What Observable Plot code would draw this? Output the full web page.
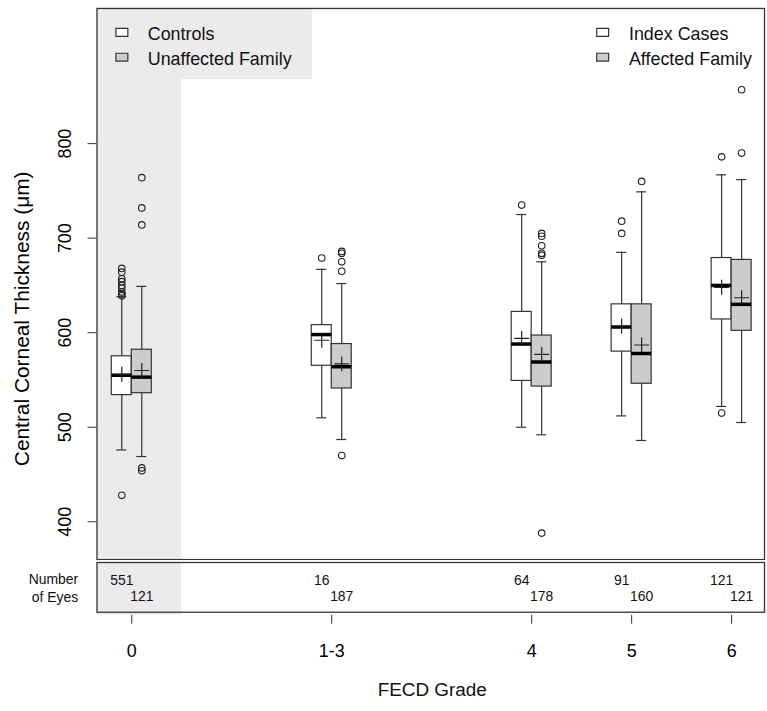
<!DOCTYPE html>
<html>
<head>
<meta charset="utf-8">
<script src="https://cdn.jsdelivr.net/npm/d3@7"></script>
<script src="https://cdn.jsdelivr.net/npm/@observablehq/plot@0.6"></script>
<style>
  html, body { margin: 0; padding: 0; background: #fff; overflow: hidden; }
  #wrap { position: relative; width: 767px; height: 711px; overflow: hidden; font-family: "Liberation Sans", Arial, sans-serif; }
  #main, #bottom { position: absolute; left: 0; }
  #main { top: 0; }
  #bottom { top: 561px; }
</style>
</head>
<body>
<div id="wrap"><div id="main"></div><div id="bottom"></div></div>
<script>
// ---------- data ----------
const groups   = ["0", "1-3", "4", "5", "6"];
const groupPos = [0, 2, 4, 5, 6];
const yTicks   = [400, 500, 600, 700, 800];

// white boxes: Controls (grade 0) / Index Cases (grades 1-6)
const q1A   = [534, 565, 549, 580, 614];
const medA  = [555, 598, 588, 606, 650];
const q3A   = [575, 608, 622, 630, 679];
const loA   = [476, 510, 500, 512, 522];
const hiA   = [638, 667, 725, 685, 767];
const meanA = [556, 592, 594, 607, 648];
const outA  = [[668, 664, 657, 654, 650, 647, 643, 641, 639, 428], [679], [735], [718, 705], [786, 515]];
const nA    = [551, 16, 64, 91, 121];

// grey boxes: Unaffected Family (grade 0) / Affected Family (grades 1-6)
const q1B   = [536, 541, 543, 546, 602];
const medB  = [553, 564, 569, 578, 630];
const q3B   = [582, 588, 597, 630, 677];
const loB   = [469, 487, 492, 486, 505];
const hiB   = [649, 652, 675, 749, 762];
const meanB = [560, 567, 577, 587, 637];
const outB  = [[764, 732, 714, 457, 454], [686, 684, 675, 665, 470], [705, 702, 692, 684, 682, 388], [760], [857, 790]];
const nB    = [121, 187, 178, 160, 121];

const legendLeft  = ["Controls", "Unaffected Family"];
const legendRight = ["Index Cases", "Affected Family"];

// ---------- build tables ----------
const seriesDefs = [
  {key: "A", off: -0.1, fill: "#ffffff", q1: q1A, med: medA, q3: q3A, lo: loA, hi: hiA, mean: meanA, out: outA, n: nA},
  {key: "B", off: 0.1, fill: "#cccccc", q1: q1B, med: medB, q3: q3B, lo: loB, hi: hiB, mean: meanB, out: outB, n: nB}
];
const boxes = [];
const outliers = [];
for (const s of seriesDefs) {
  groups.forEach((g, i) => {
    const c = groupPos[i] + s.off;
    boxes.push({key: s.key, group: g, c, fill: s.fill, q1: s.q1[i], med: s.med[i], q3: s.q3[i], lo: s.lo[i], hi: s.hi[i], mean: s.mean[i], n: s.n[i]});
    s.out[i].forEach(v => outliers.push({c, v}));
  });
}

const W = 771, xDomain = [-0.348, 6.329], yDomain = [360, 943];
const hw = 0.1, cap = 0.05;
const ink = "#333";
const font = "Liberation Sans, Arial, sans-serif";
const legendBox = {draw(ctx) { ctx.moveTo(-6, -4); ctx.lineTo(6, -4); ctx.lineTo(6, 4); ctx.lineTo(-6, 4); ctx.closePath(); }};

const main = Plot.plot({
  width: W, height: 563,
  marginTop: 8, marginBottom: 1, marginLeft: 97, marginRight: 3,
  style: {fontFamily: font, background: "transparent"},
  x: {domain: xDomain, axis: null},
  y: {domain: yDomain},
  marks: [
    Plot.rect({length: 1}, {x1: xDomain[0], x2: 0.5, fill: "#ebebeb"}),
    Plot.frame({fill: "#ebebeb", stroke: "none", insetRight: 455, insetBottom: 483}),
    // whiskers
    Plot.ruleX(boxes, {x: "c", y1: "q3", y2: "hi", stroke: ink, strokeWidth: 1.2}),
    Plot.ruleX(boxes, {x: "c", y1: "q1", y2: "lo", stroke: ink, strokeWidth: 1.2}),
    Plot.ruleY(boxes, {y: "hi", x1: d => d.c - cap, x2: d => d.c + cap, stroke: ink, strokeWidth: 1.2}),
    Plot.ruleY(boxes, {y: "lo", x1: d => d.c - cap, x2: d => d.c + cap, stroke: ink, strokeWidth: 1.2}),
    // boxes
    Plot.rect(boxes, {x1: d => d.c - hw, x2: d => d.c + hw, y1: "q1", y2: "q3", fill: "fill", stroke: ink, strokeWidth: 1.2}),
    // medians
    Plot.ruleY(boxes, {y: "med", x1: d => d.c - hw, x2: d => d.c + hw, stroke: "#000", strokeWidth: 3.5}),
    // means
    Plot.dot(boxes, {x: "c", y: "mean", symbol: "plus", r: 4.9, stroke: "#222", strokeWidth: 1.2}),
    // outliers
    Plot.dot(outliers, {x: "c", y: "v", r: 3.3, stroke: "#222", fill: "none", strokeWidth: 1.1}),
    // y axis
    Plot.axisY({ticks: yTicks, tickRotate: -90, tickSize: 9, tickPadding: 17, fontSize: 18, label: null, stroke: ink}),
    Plot.text(["Central Corneal Thickness (\u03bcm)"], {text: d => d, frameAnchor: "left", dx: -75, dy: 35, rotate: -90, fontSize: 21, lineAnchor: "middle", textAnchor: "middle"}),
    // legends
    Plot.dot({length: 1}, {frameAnchor: "top-left", dx: 25, dy: 24, symbol: legendBox, fill: "#ffffff", stroke: ink, strokeWidth: 1.2}),
    Plot.dot({length: 1}, {frameAnchor: "top-left", dx: 25, dy: 49, symbol: legendBox, fill: "#cccccc", stroke: ink, strokeWidth: 1.2}),
    Plot.text([legendLeft[0]], {text: d => d, frameAnchor: "top-left", dx: 51, dy: 26, textAnchor: "start", lineAnchor: "middle", fontSize: 18, fill: "#111"}),
    Plot.text([legendLeft[1]], {text: d => d, frameAnchor: "top-left", dx: 51, dy: 51, textAnchor: "start", lineAnchor: "middle", fontSize: 18, fill: "#111"}),
    Plot.dot({length: 1}, {frameAnchor: "top-right", dx: -162.7, dy: 24, symbol: legendBox, fill: "#ffffff", stroke: ink, strokeWidth: 1.2}),
    Plot.dot({length: 1}, {frameAnchor: "top-right", dx: -162.7, dy: 49, symbol: legendBox, fill: "#cccccc", stroke: ink, strokeWidth: 1.2}),
    Plot.text([legendRight[0]], {text: d => d, frameAnchor: "top-right", dx: -136.3, dy: 26, textAnchor: "start", lineAnchor: "middle", fontSize: 18, fill: "#111"}),
    Plot.text([legendRight[1]], {text: d => d, frameAnchor: "top-right", dx: -136.3, dy: 51, textAnchor: "start", lineAnchor: "middle", fontSize: 18, fill: "#111"}),
    Plot.frame({stroke: ink, strokeWidth: 1.3})
  ]
});
document.getElementById("main").append(main);

const bottom = Plot.plot({
  width: W, height: 150,
  marginTop: 1, marginBottom: 96, marginLeft: 97, marginRight: 3,
  insetBottom: 3,
  style: {fontFamily: font, background: "transparent"},
  x: {domain: xDomain},
  y: {type: "point", domain: ["A", "B"], padding: 1, axis: null},
  marks: [
    Plot.rect({length: 1}, {x1: xDomain[0], x2: 0.5, fill: "#ebebeb", insetBottom: 0}),
    Plot.text(boxes, {x: "c", y: "key", text: d => String(d.n), fontSize: 14, dy: 1, fill: "#111"}),
    Plot.text(["Number\nof Eyes"], {text: d => d, frameAnchor: "left", dx: -19, dy: -1.5, textAnchor: "end", lineAnchor: "middle", fontSize: 14, lineHeight: 1.28, fill: "#111"}),
    Plot.frame({stroke: ink, strokeWidth: 1.3, insetBottom: 3}),
    Plot.axisX({ticks: groupPos, tickFormat: d => groups[groupPos.indexOf(d)], tickSize: 9, tickPadding: 20, fontSize: 18, label: null, stroke: ink}),
    Plot.text(["FECD Grade"], {text: d => d, frameAnchor: "bottom", dx: 1.5, dy: 75, fontSize: 19, lineAnchor: "middle", fill: "#111"})
  ]
});
document.getElementById("bottom").append(bottom);
</script>
</body>
</html>
